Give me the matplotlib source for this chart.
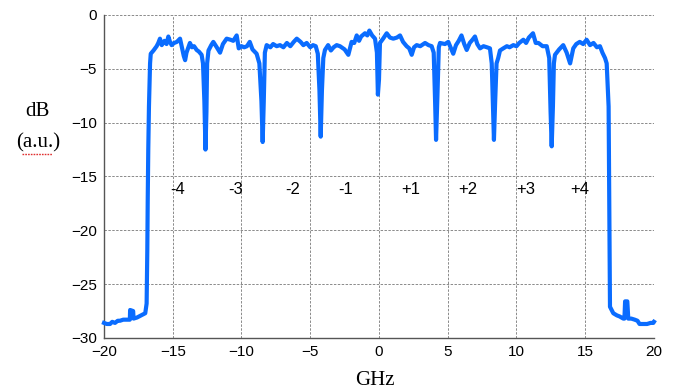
"""Spectrum of the 8-carrier comb: level in dB versus offset frequency."""

import matplotlib
matplotlib.use("Agg")
import matplotlib.pyplot as plt
from matplotlib.lines import Line2D

freq_ghz = [
    -20.0, -19.8, -19.56, -19.4, -19.2, -19.0, -18.84, -18.6, -18.23, -18.12,
    -18.1, -17.88, -17.85, -17.6, -17.38, -17.0, -16.9, -16.85, -16.82, -16.78,
    -16.73, -16.65, -16.6, -16.4, -16.17, -16.05, -15.93, -15.8, -15.6, -15.45,
    -15.32, -15.2, -15.08, -14.9, -14.7, -14.47, -14.3, -14.2, -14.1, -14.0,
    -13.75, -13.6, -13.45, -13.26, -13.1, -12.9, -12.8, -12.7, -12.62, -12.55,
    -12.5, -12.4, -12.2, -12.05, -11.8, -11.56, -11.35, -11.08, -10.8, -10.6,
    -10.35, -10.2, -10.0, -9.8, -9.6, -9.4, -9.2, -8.9, -8.7, -8.55,
    -8.46, -8.38, -8.3, -8.17, -7.9, -7.7, -7.44, -7.2, -6.95, -6.7,
    -6.45, -6.2, -5.98, -5.7, -5.5, -5.26, -5.0, -4.8, -4.6, -4.45,
    -4.33, -4.24, -4.15, -4.05, -3.93, -3.7, -3.5, -3.3, -3.08, -2.84,
    -2.5, -2.23, -1.99, -1.8, -1.62, -1.45, -1.3, -1.02, -0.85, -0.7,
    -0.5, -0.29, -0.15, -0.08, 0.0, 0.07, 0.3, 0.56, 0.8, 1.04,
    1.3, 1.53, 1.75, 2.01, 2.2, 2.38, 2.55, 2.74, 3.0, 3.35,
    3.6, 3.83, 3.98, 4.08, 4.15, 4.25, 4.35, 4.44, 4.8, 5.04,
    5.2, 5.4, 5.6, 5.8, 6.0, 6.2, 6.38, 6.6, 6.8, 6.98,
    7.15, 7.35, 7.6, 7.85, 8.07, 8.2, 8.3, 8.36, 8.45, 8.55,
    8.67, 8.8, 9.04, 9.3, 9.5, 9.77, 10.0, 10.2, 10.5, 10.7,
    10.9, 11.2, 11.4, 11.6, 11.9, 12.2, 12.38, 12.48, 12.56, 12.65,
    12.72, 12.8, 13.1, 13.4, 13.65, 13.9, 14.13, 14.35, 14.6, 14.85,
    15.1, 15.35, 15.6, 15.85, 16.07, 16.25, 16.44, 16.56, 16.7, 16.75,
    16.78, 16.8, 17.04, 17.3, 17.5, 17.77, 17.85, 17.9, 18.06, 18.13,
    18.35, 18.6, 18.8, 18.95, 19.2, 19.5, 19.75, 19.95, 20.0,
]
level_db = [
    -28.6, -28.7, -28.7, -28.5, -28.6, -28.4, -28.4, -28.3, -28.3, -28.3,
    -27.4, -27.5, -28.2, -28.1, -27.95, -27.7, -26.8, -21.8, -17.2, -12.5,
    -8.5, -4.5, -3.6, -3.3, -2.9, -2.6, -2.2, -2.8, -2.4, -2.7,
    -2.0, -2.5, -2.8, -2.6, -2.5, -2.2, -3.2, -3.8, -4.2, -3.5,
    -2.6, -3.0, -2.9, -3.25, -3.4, -3.7, -4.5, -8.0, -12.5, -9.0,
    -4.5, -3.3, -2.8, -2.5, -3.0, -3.5, -2.7, -2.2, -2.3, -2.4,
    -1.9, -3.1, -2.9, -3.0, -2.9, -2.5, -3.2, -3.6, -4.5, -8.0,
    -11.8, -8.0, -3.5, -2.8, -3.0, -2.7, -2.9, -2.8, -3.0, -2.6,
    -2.9, -2.5, -2.2, -2.5, -2.8, -2.6, -3.0, -2.8, -2.9, -3.6,
    -7.0, -11.3, -7.0, -4.0, -3.25, -2.8, -3.3, -3.0, -2.8, -2.9,
    -3.2, -3.7, -2.5, -2.6, -1.9, -2.4, -2.0, -1.7, -1.9, -1.45,
    -1.9, -2.2, -3.5, -7.4, -6.0, -2.6, -2.2, -1.7, -2.1, -2.2,
    -2.1, -1.9, -2.5, -2.9, -3.1, -3.7, -3.0, -2.8, -2.9, -2.6,
    -2.8, -2.9, -3.5, -8.0, -11.6, -7.5, -3.0, -2.6, -2.7, -2.5,
    -3.0, -3.6, -2.8, -2.4, -1.9, -2.7, -3.25, -2.6, -2.3, -2.0,
    -2.7, -3.1, -2.9, -3.0, -3.1, -4.5, -9.0, -11.6, -8.0, -4.5,
    -4.0, -3.3, -3.1, -2.9, -3.0, -2.8, -2.9, -2.6, -2.3, -2.6,
    -2.1, -1.7, -2.6, -2.6, -2.9, -2.9, -4.0, -9.0, -12.2, -8.5,
    -4.5, -3.7, -3.2, -2.8, -3.5, -4.5, -3.1, -2.7, -2.5, -2.7,
    -2.3, -2.8, -2.6, -3.0, -2.9, -3.5, -4.0, -4.5, -8.5, -17.2,
    -21.2, -27.1, -27.7, -27.9, -28.0, -28.2, -28.2, -26.6, -26.6, -28.2,
    -28.2, -28.3, -28.4, -28.7, -28.7, -28.7, -28.6, -28.6, -28.5,
]

# carrier labels and where they sit
band_labels = ["-4", "-3", "-2", "-1", "+1", "+2", "+3", "+4"]
band_x = [-14.65, -10.45, -6.25, -2.4, 2.3, 6.45, 10.7, 14.6]
band_y = -16.2

BLUE = "#0a6cff"
SERIF = ["Liberation Serif", "DejaVu Serif"]
SANS = ["Liberation Sans", "DejaVu Sans"]

fig = plt.figure(figsize=(6.74, 3.92), dpi=100)
ax = fig.add_axes([0.1543, 0.1378, 0.816, 0.824])

ax.plot(freq_ghz, level_db, color=BLUE, lw=3.0, solid_joinstyle="round",
        clip_on=False, zorder=3)

for lab, x in zip(band_labels, band_x):
    ax.text(x, band_y, lab, ha="center", va="center", fontsize=12,
            family=SANS, color="black")

ax.set_xlim(-20, 20)
ax.set_ylim(-30, 0)
ax.set_xticks(range(-20, 21, 5))
ax.set_yticks(range(-30, 1, 5))
ax.tick_params(length=0, labelsize=11, pad=5)
for lab in ax.get_xticklabels() + ax.get_yticklabels():
    lab.set_family(SANS)

ax.grid(True, color="#8a8a8a", lw=0.7, ls=(0, (2.5, 1.5)))
ax.set_axisbelow(True)
for side in ("top", "right"):
    ax.spines[side].set_visible(False)
for side in ("left", "bottom"):
    ax.spines[side].set_color("#555555")
    ax.spines[side].set_linewidth(1.0)

fig.text(0.556, 0.03, "GHz", ha="center", va="center", fontsize=15, family=SERIF)
fig.text(0.056, 0.715, "dB", ha="center", va="center", fontsize=15, family=SERIF)
fig.text(0.056, 0.635, "(a.u.)", ha="center", va="center", fontsize=15, family=SERIF)
# spell-check squiggle under "a.u."
fig.add_artist(Line2D([0.033, 0.077], [0.607, 0.607], color="#e03030", lw=1.0,
                      ls=(0, (1.2, 0.8)), transform=fig.transFigure))

fig.savefig("out.png", dpi=100)
